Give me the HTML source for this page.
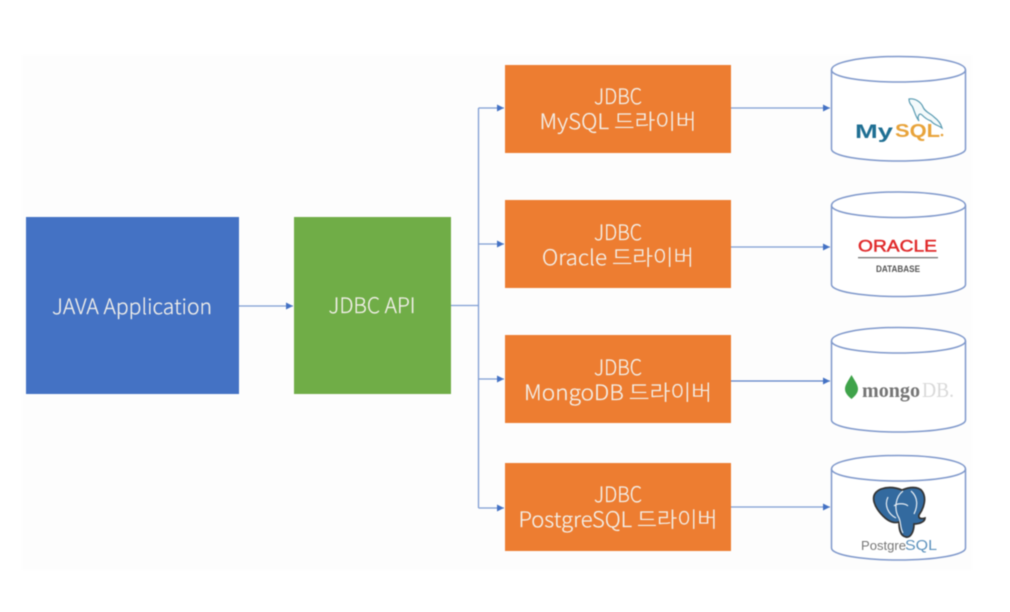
<!DOCTYPE html>
<html><head><meta charset="utf-8"><style>
html,body{margin:0;padding:0;background:#fff}
svg{display:block;filter:blur(.45px)}
.t{font-family:"Noto Sans CJK KR","Liberation Sans",sans-serif;font-weight:300;font-size:21px;fill:#f3f0ea;stroke:#f3f0ea;stroke-width:.2;text-anchor:middle}
.l{font-family:"Liberation Sans",sans-serif}
</style></head><body>
<svg width="1010" height="612" viewBox="0 0 1010 612" xmlns="http://www.w3.org/2000/svg">
<rect width="1010" height="612" fill="#fff"/>
<rect x="22" y="55" width="950" height="515" fill="#fdfdfd"/>
<defs>
<marker id="a" markerWidth="8" markerHeight="8" refX="7" refY="3.5" orient="auto" markerUnits="userSpaceOnUse"><path d="M0 0L7 3.5L0 7Z" fill="#4472c4"/></marker>
<g id="c"><path d="M831.500 70C831.500 62 862 56.500 898.500 56.500S965.500 62 965.500 70V149C965.500 156 935 161 898.500 161S831.500 156 831.500 149Z" fill="#fff" stroke="#7f98cb" stroke-width="1.500"/><path d="M831.500 70C831.500 77 862 82 898.500 82S965.500 77 965.500 70" fill="none" stroke="#7f98cb" stroke-width="1.500"/></g>
</defs>
<rect x="26" y="217" width="213" height="177" fill="#4472c4"/>
<rect x="294" y="217" width="157" height="177" fill="#70ad47"/>
<g fill="#ed7d31">
<rect x="505" y="65" width="226" height="88"/><rect x="505" y="200" width="226" height="88"/><rect x="505" y="335" width="226" height="88"/><rect x="505" y="463" width="226" height="88"/>
</g>
<g fill="none" stroke="#7f9dd3" stroke-width="1.300">
<path d="M239 306H293" marker-end="url(#a)"/>
<path d="M451 305.500H478.500"/>
<path d="M478.500 108V508"/>
<path d="M478.500 108H504" marker-end="url(#a)"/>
<path d="M478.500 244H504" marker-end="url(#a)"/>
<path d="M478.500 379H504" marker-end="url(#a)"/>
<path d="M478.500 508H504" marker-end="url(#a)"/>
<path d="M731 108H830" marker-end="url(#a)"/>
<path d="M731 247H830" marker-end="url(#a)"/>
<path d="M731 381H830" marker-end="url(#a)" stroke="#5b80c6"/>
<path d="M731 507H830" marker-end="url(#a)"/>
</g>
<use href="#c"/>
<use href="#c" y="135.500"/>
<use href="#c" y="271"/>
<use href="#c" y="399"/>
<text class="t" x="132" y="314" textLength="160" lengthAdjust="spacingAndGlyphs">JAVA Application</text>
<text class="t" x="372" y="313" textLength="87" lengthAdjust="spacingAndGlyphs">JDBC API</text>
<text class="t" x="618" y="104" textLength="48" lengthAdjust="spacingAndGlyphs">JDBC</text>
<text class="t" x="618" y="129" textLength="157" lengthAdjust="spacingAndGlyphs">MySQL 드라이버</text>
<text class="t" x="618" y="240" textLength="48" lengthAdjust="spacingAndGlyphs">JDBC</text>
<text class="t" x="618" y="265" textLength="152" lengthAdjust="spacingAndGlyphs">Oracle 드라이버</text>
<text class="t" x="618" y="375" textLength="48" lengthAdjust="spacingAndGlyphs">JDBC</text>
<text class="t" x="618" y="400" textLength="188" lengthAdjust="spacingAndGlyphs">MongoDB 드라이버</text>
<text class="t" x="618" y="502" textLength="48" lengthAdjust="spacingAndGlyphs">JDBC</text>
<text class="t" x="618" y="527" textLength="199" lengthAdjust="spacingAndGlyphs">PostgreSQL 드라이버</text>
<!-- MySQL -->
<text class="l" x="855" y="138" font-size="19" font-weight="bold" fill="#1f6f93" textLength="38" lengthAdjust="spacingAndGlyphs">My</text>
<text class="l" x="895" y="137" font-size="18" font-weight="bold" fill="#e8a33a" textLength="45" lengthAdjust="spacingAndGlyphs">SQL</text>
<circle cx="942" cy="135" r="1.300" fill="#e8a33a"/>
<path d="M909 99C915 98 921 102 923 107C925 112 930 113 934 117C938 120 941 124 942 128C938 125 934 125 931 121C928 120 925 118 922 115C919 112 917 117 919 121C915 116 914 109 912 106C910 104 909 102 909 99Z" fill="#f4fafb" stroke="#5a9bb2" stroke-width="1.200"/>
<!-- Oracle -->
<text class="l" x="858" y="251.500" font-size="17" fill="#e0292a" stroke="#e0292a" stroke-width=".5" textLength="79" lengthAdjust="spacingAndGlyphs">ORACLE</text>
<rect x="858" y="257" width="80" height="1.300" fill="#777"/>
<text class="l" x="876" y="272" font-size="9.500" font-weight="bold" fill="#555" textLength="44" lengthAdjust="spacingAndGlyphs">DATABASE</text>
<!-- Mongo -->
<path d="M851.500 375C848 381 845 385 845 389C845 393 848 396 851.500 399C855 396 858 393 858 389C858 385 855 381 851.500 375Z" fill="#3fa34a"/>
<text x="862" y="397" font-family="Liberation Serif,serif" font-size="21" font-weight="bold" fill="#757575" textLength="58" lengthAdjust="spacingAndGlyphs">mongo</text>
<text x="922" y="397" font-family="Liberation Serif,serif" font-size="21" fill="#d9d9d9" textLength="32" lengthAdjust="spacingAndGlyphs">DB.</text>
<!-- Postgres -->
<path d="M881 489C890 486 897 488 902 490C909 487 918 486 922 491C927 498 924 508 919 515C918 519 922 519 925 518C925 522 919 524 914 524C914 531 911 538 906 537C900 536 899 529 899 522C893 524 887 520 883 516C876 509 867 495 881 489Z" fill="#336a9f" stroke="#333" stroke-width="1.700"/>
<path d="M888 497C884 505 888 514 896 518M903 491C895 497 894 510 899 518C901 522 900 528 903 533M911 491C918 497 918 506 914 514M894 506C897 503 905 503 908 506" fill="none" stroke="#e8eef4" stroke-width="1.200"/>
<text class="l" x="861" y="550" font-size="13" fill="#777" textLength="45" lengthAdjust="spacingAndGlyphs">Postgre</text>
<text class="l" x="905" y="550" font-size="15" fill="#5d92bd" textLength="32" lengthAdjust="spacingAndGlyphs">SQL</text>
</svg>
</body></html>
